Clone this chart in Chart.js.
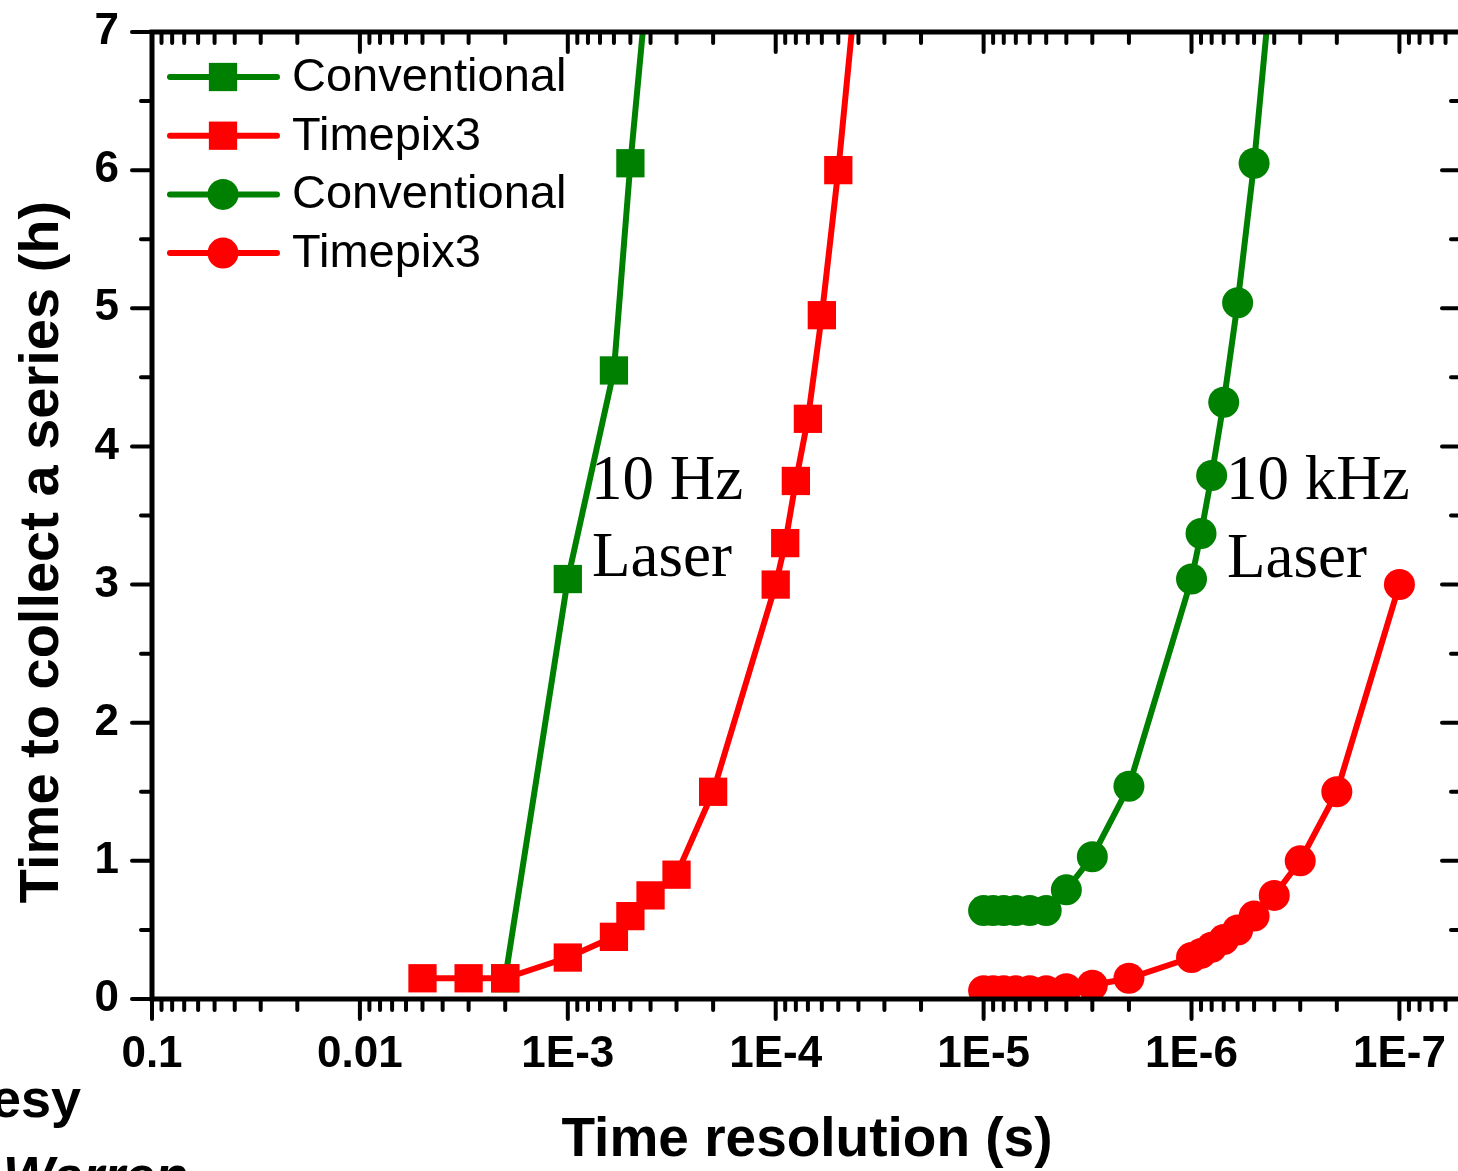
<!DOCTYPE html>
<html>
<head>
<meta charset="utf-8">
<script src="https://cdn.jsdelivr.net/npm/chart.js@4.4.1/dist/chart.umd.min.js"></script>
<style>
html, body { margin: 0; padding: 0; background: #fff; overflow: hidden; }
canvas { display: block; }
</style>
</head>
<body>
<canvas id="chart" width="1458" height="1171"></canvas>
<script>
// values (time resolution in s, collection time in h)
const conv10HzRes = [2e-3, 1e-3, 6e-4, 5e-4, 4e-4];
const conv10HzTime = [0.15, 3.04, 4.55, 6.05, 7.6];

const tpx10HzRes = [5e-3, 3e-3, 2e-3, 1e-3, 6e-4, 5e-4, 4e-4, 3e-4, 2e-4, 1e-4, 9e-5, 8e-5, 7e-5, 6e-5, 5e-5, 4e-5];
const tpx10HzTime = [0.15, 0.15, 0.15, 0.3, 0.45, 0.6, 0.75, 0.9, 1.5, 3.0, 3.3, 3.75, 4.2, 4.95, 6.0, 7.5];

const conv10kHzRes = [1e-5, 9e-6, 8e-6, 7e-6, 6e-6, 5e-6, 4e-6, 3e-6, 2e-6, 1e-6, 9e-7, 8e-7, 7e-7, 6e-7, 5e-7, 4e-7];
const conv10kHzTime = [0.64, 0.64, 0.64, 0.64, 0.64, 0.64, 0.79, 1.03, 1.54, 3.04, 3.37, 3.79, 4.32, 5.04, 6.05, 7.6];

const tpx10kHzRes = [1e-5, 9e-6, 8e-6, 7e-6, 6e-6, 5e-6, 4e-6, 3e-6, 2e-6, 1e-6, 9e-7, 8e-7, 7e-7, 6e-7, 5e-7, 4e-7, 3e-7, 2e-7, 1e-7];
const tpx10kHzTime = [0.06, 0.06, 0.06, 0.06, 0.06, 0.06, 0.075, 0.1, 0.15, 0.3, 0.33, 0.375, 0.43, 0.5, 0.6, 0.75, 1.0, 1.5, 3.0];

const xTickValues = [1e-1, 1e-2, 1e-3, 1e-4, 1e-5, 1e-6, 1e-7];
const xTickLabels = ["0.1", "0.01", "1E-3", "1E-4", "1E-5", "1E-6", "1E-7"];
const yTickValues = [0, 1, 2, 3, 4, 5, 6, 7];

const GREEN = "rgb(0,128,0)";
const RED = "rgb(255,0,0)";
const SANS = "'Liberation Sans', Arial, sans-serif";
const SERIF = "'Liberation Serif', 'Times New Roman', serif";
const PLOT_RIGHT = 1462; // right frame sits just outside the picture

function toPoints(xs, ys) {
    return xs.map((x, i) => ({ x: x, y: ys[i] }))
}

function series(label, xs, ys, color, style, order) {
    return {
        label: label,
        data: toPoints(xs, ys),
        borderColor: color,
        backgroundColor: color,
        borderWidth: 6,
        pointStyle: style,
        pointRadius: style === "rect" ? 20 : 15.5,
        pointBorderWidth: 0,
        pointBackgroundColor: color,
        tension: 0,
        order: order
    }
}

// minor tick positions for the log axis (2..9 x 10^k)
function logMinorTicks(min, max) {
    const out = []
    for (let k = -9; k <= 0; k++) {
        for (let m = 2; m <= 9; m++) {
            const v = m * Math.pow(10, k)
            if (v > min && v < max) out.push(v)
        }
    }
    return out
}

const frameAndExtras = {
    id: "frameAndExtras",
    afterLayout(chart) {
        // stretch the plot area past the right edge of the canvas
        const a = chart.chartArea
        a.right = PLOT_RIGHT
        a.width = a.right - a.left
        const xs = chart.scales.x
        xs.right = PLOT_RIGHT
        xs.width = xs.right - xs.left
        xs.configure()
    },
    afterDatasetsDraw(chart) {
        const ctx = chart.ctx
        const a = chart.chartArea
        const xs = chart.scales.x
        const ys = chart.scales.y
        ctx.save()
        ctx.strokeStyle = "#000"
        ctx.lineCap = "round"

        // ticks
        ctx.lineWidth = 4
        const major = 20, minor = 11
        const tick = (x1, y1, x2, y2) => {
            ctx.beginPath(); ctx.moveTo(x1, y1); ctx.lineTo(x2, y2); ctx.stroke()
        }
        xTickValues.forEach(v => {
            const px = xs.getPixelForValue(v)
            tick(px, a.bottom, px, a.bottom + major)
            tick(px, a.top, px, a.top + major)
        })
        logMinorTicks(xs.min, xs.max).forEach(v => {
            const px = xs.getPixelForValue(v)
            tick(px, a.bottom, px, a.bottom + minor)
            tick(px, a.top, px, a.top + minor)
        })
        yTickValues.forEach(v => {
            const py = ys.getPixelForValue(v)
            tick(a.left, py, a.left - major, py)
            tick(a.right, py, a.right - major, py)
            if (v < 7) {
                const pm = ys.getPixelForValue(v + 0.5)
                tick(a.left, pm, a.left - minor, pm)
                tick(a.right, pm, a.right - minor, pm)
            }
        })

        // frame
        ctx.lineWidth = 5
        ctx.lineCap = "butt"
        ctx.strokeRect(a.left, a.top, a.right - a.left, a.bottom - a.top)
        ctx.restore()
    },
    afterDraw(chart) {
        const ctx = chart.ctx
        ctx.save()
        ctx.fillStyle = "#000"

        // legend
        chart.data.datasets.forEach((ds, i) => {
            const cy = 77 + i * 58.7
            ctx.strokeStyle = ds.borderColor
            ctx.lineWidth = 6
            ctx.lineCap = "round"
            ctx.beginPath(); ctx.moveTo(170, cy); ctx.lineTo(277, cy); ctx.stroke()
            ctx.fillStyle = ds.backgroundColor
            if (ds.pointStyle === "rect") {
                const h = ds.pointRadius * Math.SQRT1_2
                ctx.fillRect(223 - h, cy - h, 2 * h, 2 * h)
            } else {
                ctx.beginPath(); ctx.arc(223, cy, ds.pointRadius, 0, Math.PI * 2); ctx.fill()
            }
            ctx.fillStyle = "#000"
            ctx.font = "47px " + SANS
            ctx.textAlign = "left"
            ctx.textBaseline = "middle"
            ctx.fillText(ds.label, 292, cy + 1)
        })

        // y axis title
        ctx.save()
        ctx.translate(58, 552)
        ctx.rotate(-Math.PI / 2)
        ctx.font = "bold 56px " + SANS
        ctx.textAlign = "center"
        ctx.textBaseline = "alphabetic"
        ctx.fillText("Time to collect a series (h)", 0, 0)
        ctx.restore()

        // laser annotations
        ctx.font = "63px " + SERIF
        ctx.textAlign = "left"
        ctx.textBaseline = "alphabetic"
        ctx.fillText("10 Hz", 591, 499)
        ctx.fillText("Laser", 592, 576)
        ctx.fillText("10 kHz", 1226, 499)
        ctx.fillText("Laser", 1227, 577)

        // credit text cut by the frame edge
        ctx.textAlign = "right"
        ctx.font = "bold 54px " + SANS
        ctx.fillText("Courtesy", 81, 1117)
        ctx.font = "italic bold 54px " + SANS
        ctx.fillText("Warren", 188, 1194)
        ctx.restore()
    }
}

new Chart(document.getElementById("chart"), {
    type: "line",
    data: {
        datasets: [
            series("Conventional", conv10HzRes, conv10HzTime, GREEN, "rect", 2),
            series("Timepix3", tpx10HzRes, tpx10HzTime, RED, "rect", 1),
            series("Conventional", conv10kHzRes, conv10kHzTime, GREEN, "circle", 2),
            series("Timepix3", tpx10kHzRes, tpx10kHzTime, RED, "circle", 1)
        ]
    },
    options: {
        responsive: false,
        devicePixelRatio: 1,
        animation: false,
        layout: { padding: { top: 32, right: 0, left: 0, bottom: 0 } },
        plugins: {
            legend: { display: false },
            tooltip: { enabled: false }
        },
        scales: {
            x: {
                type: "logarithmic",
                reverse: true,
                min: 5e-8,
                max: 0.1,
                afterBuildTicks: (s) => { s.ticks = xTickValues.map(v => ({ value: v })) },
                ticks: {
                    autoSkip: false,
                    maxRotation: 0,
                    padding: 29,
                    color: "#000",
                    font: { family: SANS, size: 44, weight: "bold" },
                    callback: (v, i) => xTickLabels[i]
                },
                grid: { display: false, drawTicks: false },
                border: { display: false },
                title: {
                    display: true,
                    text: "Time resolution (s)",
                    color: "#000",
                    padding: 0,
                    font: { family: SANS, size: 55, weight: "bold", lineHeight: 1.1 }
                },
                afterFit: (s) => { s.height = 172; s.paddingLeft = 0; s.paddingRight = 0 }
            },
            y: {
                type: "linear",
                min: 0,
                max: 7,
                ticks: {
                    stepSize: 1,
                    padding: 33,
                    color: "#000",
                    font: { family: SANS, size: 44, weight: "bold" }
                },
                grid: { display: false, drawTicks: false },
                border: { display: false },
                afterFit: (s) => { s.width = 152; s.paddingTop = 0; s.paddingBottom = 0 }
            }
        }
    },
    plugins: [frameAndExtras]
});
</script>
</body>
</html>
